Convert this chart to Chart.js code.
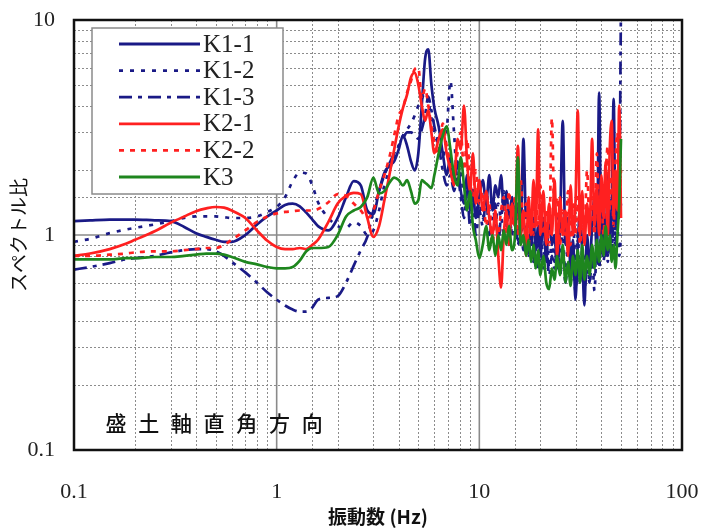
<!DOCTYPE html>
<html><head><meta charset="utf-8">
<script src="https://cdn.jsdelivr.net/npm/chart.js@4.4.1/dist/chart.umd.min.js"></script>
<style>html,body{margin:0;padding:0;background:#fff;}#wrap{position:relative;width:701px;height:528px;}</style>
</head><body><div id="wrap"><canvas id="c" width="701" height="528"></canvas></div>
<script>
const freq = [0.1,0.12,0.15,0.18,0.2,0.25,0.3,0.35,0.4,0.45,0.5,0.55,0.6,0.7,0.8,0.9,1.0,1.1,1.2,1.3,1.4,1.5,1.6,1.8,2.0,2.2,2.4,2.6,2.8,3.0,3.2,3.4,3.6,3.8,4.0,4.2,4.4,4.6,4.8,5.0,5.2,5.4,5.6,5.8,6.0,6.3,6.6,6.9,7.2,7.5,7.8,
 8.1,8.4,8.7,9.0,9.3,9.6,10.0,10.4,10.8,11.2,11.6,12.0,12.4,12.8,13.2,13.6,14.0,14.5,15.0,15.5,16.0,16.5,17.0,17.5,18.0,18.5,19.0,19.5,20.0,20.7,21.4,22.1,22.8,23.5,24.2,25.0,25.8,26.6,27.4,28.2,29.0,29.8,30.6,31.4,32.2,33.0,34.0,35.0,36.0,37.0,38.0,39.0,40.0,41.0,42.0,43.0,44.0,45.0,46.0,47.0,48.0,49.0,50.0];
const k1_1 = [1.16,1.17,1.18,1.18,1.18,1.17,1.16,1.09,1.02,0.98,0.95,0.93,0.93,1.0,1.12,1.22,1.3,1.38,1.4,1.36,1.27,1.18,1.1,1.05,1.2,1.5,1.78,1.7,1.3,1.25,1.6,1.95,2.1,2.2,2.5,2.9,2.6,2.2,2.0,2.4,4.0,6.6,7.3,5.0,3.9,3.2,2.4,1.9,2.3,1.8,2.2,
 1.6,1.4,1.9,1.3,1.6,1.2,1.5,1.8,1.4,1.9,1.3,1.7,1.5,1.9,1.3,1.6,1.2,1.5,1.1,1.4,1.0,2.8,1.2,1.3,0.9,1.2,0.85,1.1,0.8,1.2,0.75,1.3,0.9,1.0,0.7,1.1,3.4,0.9,1.2,0.7,0.95,0.5,0.9,1.3,0.8,0.47,1.0,0.7,1.1,1.5,0.75,4.6,0.9,1.3,0.8,1.9,1.0,1.3,4.3,1.1,1.6,1.2,1.4];
const k1_2 = [0.93,0.96,1.02,1.06,1.08,1.12,1.16,1.2,1.22,1.22,1.22,1.21,1.2,1.2,1.22,1.28,1.35,1.5,1.78,1.95,1.93,1.7,1.42,1.2,1.1,1.08,1.15,1.1,1.0,1.05,1.3,1.7,2.0,2.3,2.6,2.9,3.1,3.3,3.6,4.0,4.3,4.6,4.2,3.5,3.0,2.6,2.3,3.0,5.2,3.0,1.8,
 2.0,1.5,1.8,1.4,1.7,1.3,1.4,1.2,1.6,1.3,1.5,1.1,1.4,1.2,1.6,1.1,1.3,1.0,1.4,0.95,1.2,0.9,1.3,0.85,1.1,0.8,1.0,0.75,1.0,0.8,1.1,0.7,0.95,0.75,1.2,0.8,1.0,0.65,0.9,0.8,1.2,0.7,1.0,0.6,0.85,0.7,0.9,0.6,0.8,0.55,0.9,0.7,1.1,0.75,1.0,0.8,1.5,0.85,1.2,0.9,1.1,0.8,1.0];
const k1_3 = [0.69,0.71,0.74,0.77,0.78,0.8,0.83,0.85,0.86,0.86,0.84,0.8,0.75,0.67,0.6,0.54,0.5,0.47,0.45,0.44,0.44,0.46,0.5,0.51,0.52,0.6,0.72,0.85,0.98,1.3,1.6,1.9,2.15,2.4,2.6,2.8,3.0,3.0,2.9,2.8,3.1,3.6,4.4,3.8,3.2,2.6,2.0,1.7,1.9,1.6,1.9,
 1.5,1.2,1.6,1.1,1.4,1.0,1.3,1.1,1.5,1.0,1.2,1.4,0.9,1.2,1.0,1.3,0.9,1.1,1.3,0.9,1.1,0.85,1.0,0.8,1.0,0.75,0.9,0.7,0.85,0.7,0.9,0.65,0.8,0.7,0.9,0.65,0.8,0.6,0.75,0.6,0.8,0.55,0.7,0.6,0.75,0.55,0.7,0.6,0.8,0.65,0.9,0.7,1.0,0.8,1.1,0.75,1.0,0.8,1.3,0.9,1.2,1.5,12];
const k2_1 = [0.8,0.82,0.86,0.91,0.95,1.04,1.14,1.22,1.29,1.33,1.35,1.34,1.3,1.2,1.05,0.94,0.88,0.86,0.86,0.87,0.86,0.9,0.95,1.15,1.4,1.52,1.57,1.55,1.2,0.98,1.1,1.45,1.9,2.5,3.2,3.9,4.5,5.4,5.7,5.0,4.0,3.4,3.8,3.0,2.4,2.8,3.1,2.4,2.0,1.7,2.8,
 2.5,4.0,2.2,1.6,2.4,1.4,1.8,1.3,1.6,1.2,1.0,1.3,0.8,0.57,1.0,1.3,0.9,1.4,1.1,2.6,1.0,1.3,0.8,1.5,1.0,1.8,1.1,3.1,1.0,1.6,0.9,1.4,1.0,1.8,0.8,1.5,1.0,1.3,0.8,1.7,1.0,1.4,3.8,1.0,1.6,0.9,1.4,1.0,2.8,1.1,1.7,1.0,1.9,1.2,2.2,1.0,2.5,3.4,1.2,2.0,1.3,4.0,1.2];
const k2_2 = [0.8,0.8,0.81,0.82,0.83,0.84,0.84,0.85,0.86,0.87,0.87,0.9,0.95,1.05,1.15,1.22,1.26,1.28,1.29,1.3,1.3,1.3,1.32,1.42,1.55,1.52,1.4,1.3,1.2,1.3,1.6,1.9,2.3,2.9,3.6,3.9,4.6,5.2,5.9,6.0,4.3,4.8,4.0,3.2,2.7,2.4,3.3,2.6,2.2,2.0,2.4,
 3.0,2.0,2.8,1.8,1.5,2.0,1.4,1.6,1.1,1.4,0.9,1.2,1.0,1.3,1.5,1.0,1.6,1.1,1.5,1.0,1.8,1.1,1.4,0.9,1.3,1.0,1.5,1.1,1.7,1.0,1.3,0.9,3.5,1.2,1.5,0.9,1.3,1.0,1.6,0.9,1.4,1.0,1.5,0.9,1.2,1.0,2.0,1.1,1.5,1.0,2.4,1.2,1.6,1.0,1.8,2.6,1.3,1.9,1.1,2.2,3.0,1.5,2.0];
const k3 = [0.77,0.77,0.77,0.78,0.78,0.79,0.79,0.8,0.81,0.82,0.82,0.81,0.79,0.75,0.73,0.71,0.7,0.7,0.71,0.76,0.84,0.87,0.87,0.88,1.0,1.22,1.3,1.35,1.5,1.85,1.56,1.6,1.75,1.85,1.8,1.7,1.8,1.6,1.4,1.45,1.8,1.75,1.7,1.65,1.9,2.4,2.9,3.2,2.5,1.9,1.7,
 2.3,1.7,1.3,1.6,1.1,0.95,0.78,0.9,1.1,0.85,1.0,0.8,1.0,0.85,1.05,0.9,1.1,0.85,1.0,2.3,0.9,1.0,0.8,0.95,0.75,0.9,0.7,0.85,0.65,0.8,0.6,0.56,0.7,0.62,0.8,0.65,0.9,0.6,0.75,0.58,0.8,0.65,0.85,0.6,0.9,0.62,0.8,0.65,0.9,0.7,0.95,0.75,1.0,0.8,1.1,0.85,1.0,0.75,0.9,0.7,1.0,1.4,2.8];
const seriesLabels = ['K1-1','K1-2','K1-3','K2-1','K2-2','K3'];
const xTickLabels = ['0.1','1','10','100'];
const yTickLabels = ['0.1','1','10'];
const annotationText = '盛土軸直角方向';

const SERIF='"Liberation Serif","DejaVu Serif",serif';
const CJK='"Noto Sans CJK JP","Noto Sans CJK SC",sans-serif';
const NAVY='#1a1a86', RED='#ff2020', GREEN='#1e861e';
const seriesValues=[k1_1,k1_2,k1_3,k2_1,k2_2,k3];
const styles=[
 {c:NAVY,d:[],o:2},{c:NAVY,d:[4,7],o:2},{c:NAVY,d:[13,6,4,6],o:2},
 {c:RED,d:[],o:1},{c:RED,d:[5,6],o:1},{c:GREEN,d:[],o:0}];
const datasets=seriesValues.map((vals,i)=>({
  label:seriesLabels[i],
  data:freq.map((f,j)=>({x:f,y:vals[j]})),
  borderColor:styles[i].c, borderDash:styles[i].d, borderWidth:2.7,
  pointRadius:0, fill:false, cubicInterpolationMode:'monotone', order:styles[i].o
}));
function isDecade(v){const l=Math.log10(v);return Math.abs(l-Math.round(l))<1e-6;}

const gridPlugin={id:'gridp',
 beforeDatasetsDraw(chart){
  const {ctx,chartArea:a,scales:{x,y}}=chart;
  ctx.save();
  ctx.strokeStyle='#8c8c8c'; ctx.lineWidth=1; ctx.setLineDash([2,2]);
  x.ticks.forEach(t=>{ if(isDecade(t.value))return; const p=Math.round(x.getPixelForValue(t.value))+0.5;
    ctx.beginPath();ctx.moveTo(p,a.top);ctx.lineTo(p,a.bottom);ctx.stroke();});
  y.ticks.forEach(t=>{ if(isDecade(t.value))return; const p=Math.round(y.getPixelForValue(t.value))+0.5;
    ctx.beginPath();ctx.moveTo(a.left,p);ctx.lineTo(a.right,p);ctx.stroke();});
  ctx.setLineDash([]); ctx.strokeStyle='#8a8a8a'; ctx.lineWidth=1.6;
  x.ticks.forEach(t=>{ if(!isDecade(t.value))return; const p=x.getPixelForValue(t.value); if(p<a.left+2||p>a.right-2)return;
    ctx.beginPath();ctx.moveTo(p,a.top);ctx.lineTo(p,a.bottom);ctx.stroke();});
  y.ticks.forEach(t=>{ if(!isDecade(t.value))return; const p=y.getPixelForValue(t.value); if(p<a.top+2||p>a.bottom-2)return;
    ctx.beginPath();ctx.moveTo(a.left,p);ctx.lineTo(a.right,p);ctx.stroke();});
  ctx.restore();
 },
 afterDatasetsDraw(chart){
  const {ctx,chartArea:a}=chart;
  ctx.save(); ctx.strokeStyle='#111'; ctx.lineWidth=2.5;
  ctx.strokeRect(a.left,a.top,a.right-a.left,a.bottom-a.top);
  ctx.fillStyle='#111'; ctx.font='500 21px '+CJK; ctx.textAlign='center'; ctx.textBaseline='middle';
  [...annotationText].forEach((ch,i)=>ctx.fillText(ch,a.left+42+i*32.7,a.bottom-27));
  const lx=a.left+18, ly=a.top+8, lw=191, lh=166;
  ctx.fillStyle='#fff'; ctx.fillRect(lx,ly,lw,lh);
  ctx.strokeStyle='#8a8a8a'; ctx.lineWidth=1.5; ctx.strokeRect(lx,ly,lw,lh);
  ctx.font='25px '+SERIF; ctx.textAlign='left'; ctx.fillStyle='#222';
  chart.data.datasets.forEach((ds,i)=>{
    const yy=ly+16+i*26.6;
    ctx.strokeStyle=ds.borderColor; ctx.lineWidth=2.8; ctx.setLineDash(ds.borderDash);
    ctx.beginPath(); ctx.moveTo(lx+27,yy); ctx.lineTo(lx+108,yy); ctx.stroke();
    ctx.setLineDash([]);
    ctx.fillText(ds.label,lx+111,yy+1);
  });
  ctx.restore();
 }
};

new Chart(document.getElementById('c'),{
 type:'line',
 data:{datasets},
 plugins:[gridPlugin],
 options:{
  responsive:false, animation:false,
  layout:{padding:{left:0,right:19,top:20,bottom:0}},
  plugins:{legend:{display:false},tooltip:{enabled:false}},
  scales:{
   x:{type:'logarithmic',min:0.1,max:100,
     grid:{display:false,drawTicks:false},border:{display:false},
     afterFit(s){s.height=78;s.paddingLeft=0;s.paddingRight=0;s.paddingTop=0;s.paddingBottom=0;},
     ticks:{autoSkip:false,maxRotation:0,padding:29,color:'#222',font:{family:SERIF,size:22},
       callback(v){return isDecade(v)?xTickLabels[Math.round(Math.log10(v))+1]:'';}},
     title:{display:true,text:'振動数 (Hz)',color:'#111',font:{family:CJK,size:19,weight:'bold'},padding:{top:0,bottom:0}}},
   y:{type:'logarithmic',min:0.1,max:10,
     grid:{display:false,drawTicks:false},border:{display:false},
     afterFit(s){s.width=74;s.paddingLeft=0;s.paddingRight=0;s.paddingTop=0;s.paddingBottom=0;},
     ticks:{autoSkip:false,padding:19,color:'#222',font:{family:SERIF,size:22},
       callback(v){return isDecade(v)?yTickLabels[Math.round(Math.log10(v))+1]:'';}},
     title:{display:true,text:'スペクトル比',color:'#111',font:{family:CJK,size:19},padding:{top:7,bottom:0}}}
  }
 }
});
</script></body></html>
